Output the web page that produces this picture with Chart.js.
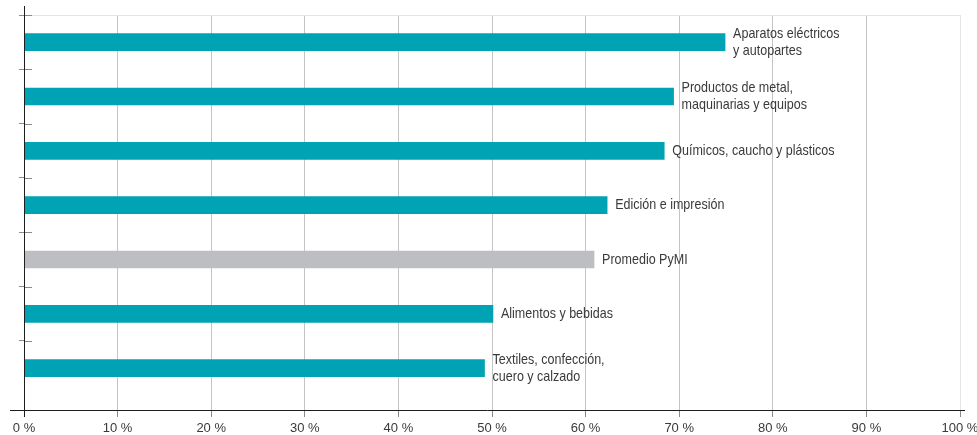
<!DOCTYPE html>
<html lang="es">
<head>
<meta charset="utf-8">
<script src="https://cdn.jsdelivr.net/npm/chart.js@4/dist/chart.umd.min.js"></script>
<style>
  html, body { margin: 0; padding: 0; background: #ffffff; }
  #wrap { width: 977px; height: 435px; }
</style>
</head>
<body>
<div id="wrap"><canvas id="chart" width="977" height="435"></canvas></div>
<script>
// Sectors (each entry split into the lines shown next to its bar)
const sectors = [
  ['Aparatos eléctricos', 'y autopartes'],
  ['Productos de metal,', 'maquinarias y equipos'],
  ['Químicos, caucho y plásticos'],
  ['Edición e impresión'],
  ['Promedio PyMI'],
  ['Alimentos y bebidas'],
  ['Textiles, confección,', 'cuero y calzado']
];
// Share per sector, in percent
const shares = [74.9, 69.4, 68.4, 62.3, 60.9, 50.1, 49.2];
// Percent axis ticks
const percentTicks = [0, 10, 20, 30, 40, 50, 60, 70, 80, 90, 100];

const AVERAGE = 'Promedio PyMI';
const TEAL = '#00a3b3';
const GREY = '#bdbec2';
const FAMILY = '"Liberation Sans", Arial, sans-serif';
const TEXT = '#3a3a3a';

// Sector names written just past the end of every bar, in a condensed cut
const barLabels = {
  id: 'barLabels',
  afterDatasetsDraw(chart) {
    const { ctx } = chart;
    const meta = chart.getDatasetMeta(0);
    const lineH = 17;
    meta.data.forEach((bar, i) => {
      const lines = sectors[i];
      const top = bar.y - (lines.length - 1) * lineH / 2;
      lines.forEach((t, k) => {
        ctx.save();
        ctx.translate(bar.x + 8, top + k * lineH);
        ctx.scale(0.835, 1);
        ctx.font = '15px ' + FAMILY;
        ctx.fillStyle = TEXT;
        ctx.textAlign = 'left';
        ctx.textBaseline = 'middle';
        ctx.fillText(t, 0, 0);
        ctx.restore();
      });
    });
  }
};

// Axis lines, a little longer than the plot area, plus the inner half of the category ticks
const axisLines = {
  id: 'axisLines',
  afterDraw(chart) {
    const { ctx, chartArea: a } = chart;
    const y = chart.scales.y;
    ctx.save();
    ctx.lineWidth = 1;
    ctx.strokeStyle = '#8a8a8a';
    y.ticks.forEach((t, i) => {
      const py = Math.round(y.getPixelForTick(i)) + 0.5;
      ctx.beginPath();
      ctx.moveTo(a.left, py);
      ctx.lineTo(a.left + 8, py);
      ctx.stroke();
    });
    ctx.strokeStyle = '#1e1e1e';
    const bx = Math.round(a.bottom) + 0.5;
    const lx = Math.round(a.left) + 0.5;
    ctx.beginPath();
    ctx.moveTo(10, bx);
    ctx.lineTo(965, bx);
    ctx.moveTo(lx, a.top - 9);
    ctx.lineTo(lx, a.bottom + 7);
    ctx.stroke();
    ctx.restore();
  }
};

new Chart(document.getElementById('chart'), {
  type: 'bar',
  data: {
    datasets: [{
      data: shares.map((v, i) => ({ x: v, y: i })),
      backgroundColor: sectors.map(s => s.join(' ') === AVERAGE ? GREY : TEAL),
      borderWidth: 0,
      barThickness: 17
    }]
  },
  options: {
    indexAxis: 'y',
    responsive: false,
    animation: false,
    devicePixelRatio: 1,
    layout: { padding: { top: 15, right: 17, left: 0, bottom: 0 } },
    plugins: { legend: { display: false }, tooltip: { enabled: false } },
    scales: {
      x: {
        type: 'linear',
        min: 0,
        max: 100,
        afterBuildTicks: s => { s.ticks = percentTicks.map(v => ({ value: v })); },
        afterFit: s => { s.height = 25; s.paddingLeft = 0; s.paddingRight = 0; },
        border: { display: false },
        grid: {
          color: c => (c.tick && c.tick.value === 100) ? '#e4e4e4' : '#c4c4c4',
          tickColor: '#8a8a8a',
          tickLength: 7
        },
        ticks: {
          autoSkip: false,
          maxRotation: 0,
          padding: 4,
          color: TEXT,
          font: { family: FAMILY, size: 13 },
          callback: v => v + ' %'
        }
      },
      y: {
        type: 'linear',
        reverse: true,
        offset: false,
        min: -0.5,
        max: 6.77,
        afterBuildTicks: s => { s.ticks = sectors.map((_, i) => ({ value: i - 0.5 })); },
        afterFit: s => { s.width = 24; s.paddingTop = 0; s.paddingBottom = 0; },
        border: { display: false },
        grid: {
          offset: false,
          color: c => (c.tick && c.tick.value === -0.5) ? '#e4e4e4' : 'rgba(0,0,0,0)',
          tickColor: '#8a8a8a',
          tickLength: 5
        },
        ticks: { display: false }
      }
    }
  },
  plugins: [barLabels, axisLines]
});
</script>
</body>
</html>
